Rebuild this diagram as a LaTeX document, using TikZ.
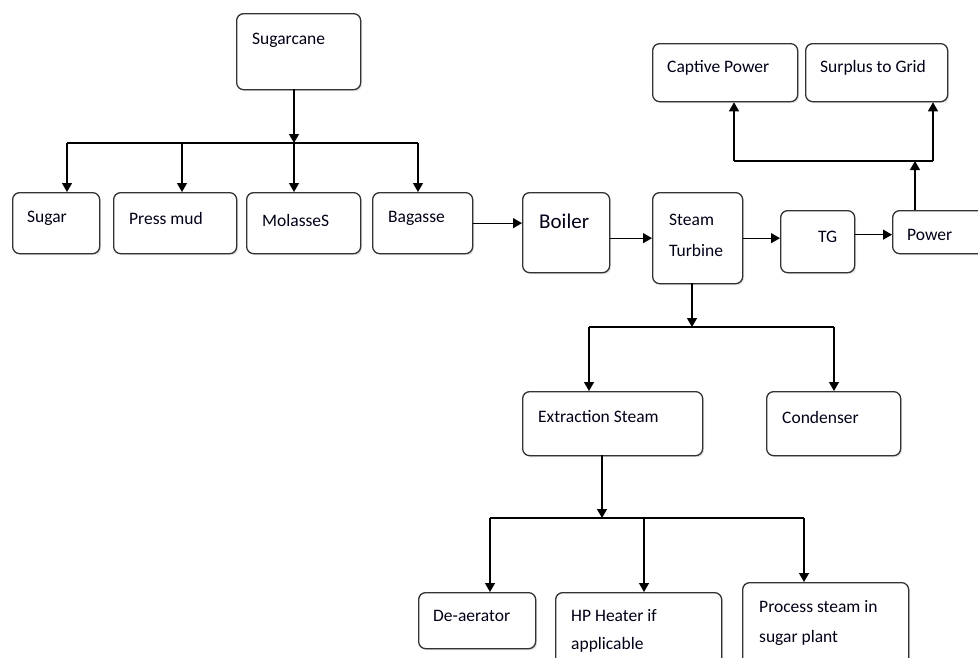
\documentclass[tikz,border=0pt]{standalone}
\usepackage{fontspec}
\setmainfont{Carlito}
\usetikzlibrary{arrows.meta,shadows}
\begin{document}
\begin{tikzpicture}[x=1pt,y=-1pt,
  box/.style={draw=black!80, line width=1.3pt, rounded corners=7pt, fill=white,
    anchor=north west, inner sep=0pt,
    drop shadow={opacity=0.22, shadow xshift=1.5pt, shadow yshift=-1.5pt}},
  txt/.style={anchor=west, inner sep=0pt, font=\fontsize{17.5}{21}\selectfont, text=black!85!blue!60!black},
  bigtxt/.style={txt, font=\fontsize{21}{25}\selectfont},
  flow/.style={line width=1.3pt, -{Triangle[length=9pt,width=10pt]}},
  wire/.style={line width=1.3pt}]
\clip (0,0) rectangle (978,657);

% ---- boxes ----
\node[box, minimum width=124pt, minimum height=76pt] (sugarcane) at (236,13) {};
\node[box, minimum width=87pt,  minimum height=61pt] (sugar)     at (12,192) {};
\node[box, minimum width=123pt, minimum height=61pt] (pressmud)  at (113,192) {};
\node[box, minimum width=114pt, minimum height=61pt] (molasses)  at (246,192) {};
\node[box, minimum width=100pt, minimum height=61pt] (bagasse)   at (372,192) {};
\node[box, minimum width=87pt,  minimum height=80pt] (boiler)    at (522,192) {};
\node[box, minimum width=90pt,  minimum height=91pt] (turbine)   at (652,192) {};
\node[box, minimum width=74pt,  minimum height=62pt] (tg)        at (780,210) {};
\node[box, minimum width=110pt, minimum height=43pt] (power)     at (892,210) {};
\node[box, minimum width=145pt, minimum height=58pt] (captive)   at (652,43) {};
\node[box, minimum width=142pt, minimum height=58pt] (surplus)   at (805,43) {};
\node[box, minimum width=180pt, minimum height=64pt] (extraction) at (522,391) {};
\node[box, minimum width=134pt, minimum height=64pt] (condenser) at (766,391) {};
\node[box, minimum width=117pt, minimum height=56pt] (deaerator) at (418,592) {};
\node[box, minimum width=166pt, minimum height=90pt] (hpheater)  at (555,592) {};
\node[box, minimum width=166pt, minimum height=100pt] (process)  at (742,582) {};

% ---- labels ----
\node[txt] (tSugarcane) at (252,40) {Sugarcane};
\node[txt] (tSugar)     at (27,218) {Sugar};
\node[txt] (tPress)     at (129,218) {Press mud};
\node[txt] (tMolasses)  at (262,220) {MolasseS};
\node[txt] (tBagasse)   at (388,218) {Bagasse};
\node[bigtxt] (tBoiler) at (539,221) {Boiler};
\node[txt] (tSteam)     at (669,220) {Steam};
\node[txt] (tTurbine)   at (669,250) {Turbine};
\node[txt] (tTG)        at (818,237) {TG};
\node[txt] (tPower)     at (907,235) {Power};
\node[txt] (tCaptive)   at (667,68) {Captive Power};
\node[txt] (tSurplus)   at (820,68) {Surplus to Grid};
\node[txt] (tExtr)      at (538,417) {Extraction Steam};
\node[txt] (tCond)      at (782,417) {Condenser};
\node[txt] (tDeaer)     at (433,616) {De-aerator};
\node[txt] (tHP1)       at (571,616) {HP Heater if};
\node[txt] (tHP2)       at (571,645) {applicable};
\node[txt] (tProc1)     at (759,607) {Process steam in};
\node[txt] (tProc2)     at (759,638) {sugar plant};

% ---- sugarcane split ----
\coordinate (caneStem) at (294,89);
\coordinate (caneJ)    at (294,143);
\coordinate (caneL)    at (67,143);
\coordinate (caneP)    at (182,143);
\coordinate (caneR)    at (418,143);
\draw[flow] (caneStem) -- (caneJ);
\draw[wire] (caneL) -- (caneR);
\draw[flow] (caneL) -- (caneL |- sugar.north);
\draw[flow] (caneP) -- (caneP |- pressmud.north);
\draw[flow] (caneJ) -- (caneJ |- molasses.north);
\draw[flow] (caneR) -- (caneR |- bagasse.north);

% ---- main steam line ----
\draw[flow] (bagasse.east) -- (bagasse.east -| boiler.west);
\draw[flow] (boiler.east |- turbine.west) -- (turbine.west);
\draw[flow] (turbine.east) -- (turbine.east -| tg.west);
\coordinate (powerIn) at ([yshift=-2.5pt]power.west);
\draw[flow] (tg.east |- powerIn) -- (powerIn);

% ---- power split ----
\coordinate (powOut) at (915,210);
\coordinate (powJ)   at (915,161);
\coordinate (powL)   at (734,161);
\coordinate (powR)   at (933,161);
\draw[flow] (powOut) -- (powJ);
\draw[wire] (powL) -- (powR);
\draw[flow] (powL) -- (powL |- captive.south);
\draw[flow] (powR) -- (powR |- surplus.south);

% ---- turbine exhaust split ----
\coordinate (turbOut) at (692,283);
\coordinate (turbJ)   at (692,327);
\coordinate (turbL)   at (589,327);
\coordinate (turbR)   at (834,327);
\draw[flow] (turbOut) -- (turbJ);
\draw[wire] (turbL) -- (turbR);
\draw[flow] (turbL) -- (turbL |- extraction.north);
\draw[flow] (turbR) -- (turbR |- condenser.north);

% ---- extraction steam split ----
\coordinate (extOut) at (602,455);
\coordinate (extJ)   at (602,518);
\coordinate (extL)   at (490,518);
\coordinate (extM)   at (644,518);
\coordinate (extR)   at (804,518);
\draw[flow] (extOut) -- (extJ);
\draw[wire] (extL) -- (extR);
\draw[flow] (extL) -- (extL |- deaerator.north);
\draw[flow] (extM) -- (extM |- hpheater.north);
\draw[flow] (extR) -- (extR |- process.north);
\end{tikzpicture}
\end{document}
